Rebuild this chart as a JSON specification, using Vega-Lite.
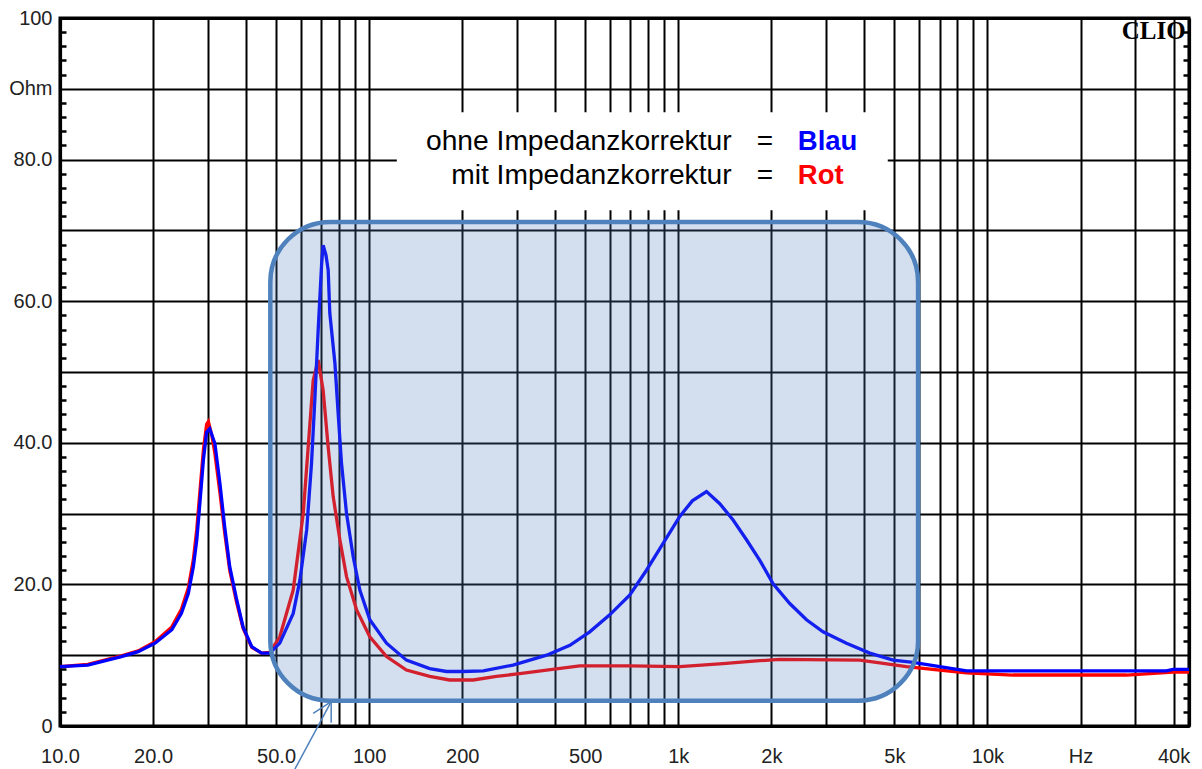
{
  "$schema": "https://vega.github.io/schema/vega-lite/v6.json",
  "width": 1129,
  "height": 708,
  "autosize": {"type": "none"},
  "padding": {"left": 60, "top": 18, "right": 13, "bottom": 43},
  "background": "white",
  "config": {
    "view": {"stroke": "#000000", "strokeWidth": 3},
    "axis": {
      "labelFont": "Liberation Sans",
      "labelFontSize": 20,
      "labelColor": "#222222",
      "gridColor": "#000000",
      "gridWidth": 2,
      "gridOpacity": 1,
      "domain": false,
      "domainColor": "#000000",
      "domainWidth": 3.2,
      "labelOverlap": false,
      "labelBound": false,
      "labelFlush": false,
      "title": null
    }
  },
  "datasets": {
    "imp": [
      {"series": "ohne", "freq": 10, "ohm": 8.4},
      {"series": "ohne", "freq": 12.3, "ohm": 8.6},
      {"series": "ohne", "freq": 15.8, "ohm": 9.8},
      {"series": "ohne", "freq": 17.9, "ohm": 10.5},
      {"series": "ohne", "freq": 20.3, "ohm": 11.7},
      {"series": "ohne", "freq": 23, "ohm": 13.6},
      {"series": "ohne", "freq": 24.7, "ohm": 15.9},
      {"series": "ohne", "freq": 26, "ohm": 18.7},
      {"series": "ohne", "freq": 27, "ohm": 22.5},
      {"series": "ohne", "freq": 27.7, "ohm": 26.3},
      {"series": "ohne", "freq": 28.4, "ohm": 31.9},
      {"series": "ohne", "freq": 29.1, "ohm": 37.6},
      {"series": "ohne", "freq": 29.8, "ohm": 41.5},
      {"series": "ohne", "freq": 30.5, "ohm": 42.0},
      {"series": "ohne", "freq": 31.7, "ohm": 39.9},
      {"series": "ohne", "freq": 32.9, "ohm": 34.3},
      {"series": "ohne", "freq": 34.1, "ohm": 28.1},
      {"series": "ohne", "freq": 35.4, "ohm": 22.5},
      {"series": "ohne", "freq": 37.3, "ohm": 17.8},
      {"series": "ohne", "freq": 39.1, "ohm": 14.0},
      {"series": "ohne", "freq": 41.7, "ohm": 11.2},
      {"series": "ohne", "freq": 44.9, "ohm": 10.3},
      {"series": "ohne", "freq": 47.7, "ohm": 10.3},
      {"series": "ohne", "freq": 51.4, "ohm": 11.7},
      {"series": "ohne", "freq": 56.8, "ohm": 15.9},
      {"series": "ohne", "freq": 59.7, "ohm": 20.6},
      {"series": "ohne", "freq": 62.8, "ohm": 27.7},
      {"series": "ohne", "freq": 65.1, "ohm": 37.1},
      {"series": "ohne", "freq": 66.8, "ohm": 46.5},
      {"series": "ohne", "freq": 68.4, "ohm": 55.9},
      {"series": "ohne", "freq": 70.2, "ohm": 65.3},
      {"series": "ohne", "freq": 71.0, "ohm": 67.9},
      {"series": "ohne", "freq": 72.5, "ohm": 66.5},
      {"series": "ohne", "freq": 73.7, "ohm": 64.4},
      {"series": "ohne", "freq": 74.6, "ohm": 58.3},
      {"series": "ohne", "freq": 77.5, "ohm": 51.2},
      {"series": "ohne", "freq": 79.4, "ohm": 44.1},
      {"series": "ohne", "freq": 81.4, "ohm": 37.1},
      {"series": "ohne", "freq": 84.5, "ohm": 30.0},
      {"series": "ohne", "freq": 88.8, "ohm": 23.9},
      {"series": "ohne", "freq": 93.3, "ohm": 19.2},
      {"series": "ohne", "freq": 100.5, "ohm": 15.0},
      {"series": "ohne", "freq": 113.8, "ohm": 11.7},
      {"series": "ohne", "freq": 132, "ohm": 9.3},
      {"series": "ohne", "freq": 157, "ohm": 8.1},
      {"series": "ohne", "freq": 178, "ohm": 7.7},
      {"series": "ohne", "freq": 201, "ohm": 7.7},
      {"series": "ohne", "freq": 234, "ohm": 7.8},
      {"series": "ohne", "freq": 292, "ohm": 8.6},
      {"series": "ohne", "freq": 375, "ohm": 10.0},
      {"series": "ohne", "freq": 446, "ohm": 11.4},
      {"series": "ohne", "freq": 517, "ohm": 13.3},
      {"series": "ohne", "freq": 600, "ohm": 15.7},
      {"series": "ohne", "freq": 697, "ohm": 18.5},
      {"series": "ohne", "freq": 789, "ohm": 22.0},
      {"series": "ohne", "freq": 893, "ohm": 25.8},
      {"series": "ohne", "freq": 1011, "ohm": 29.6},
      {"series": "ohne", "freq": 1110, "ohm": 31.8},
      {"series": "ohne", "freq": 1234, "ohm": 33.1},
      {"series": "ohne", "freq": 1362, "ohm": 31.4},
      {"series": "ohne", "freq": 1504, "ohm": 29.1},
      {"series": "ohne", "freq": 1662, "ohm": 26.3},
      {"series": "ohne", "freq": 1835, "ohm": 23.4},
      {"series": "ohne", "freq": 2026, "ohm": 20.1},
      {"series": "ohne", "freq": 2294, "ohm": 17.3},
      {"series": "ohne", "freq": 2598, "ohm": 15.0},
      {"series": "ohne", "freq": 2939, "ohm": 13.3},
      {"series": "ohne", "freq": 3499, "ohm": 11.7},
      {"series": "ohne", "freq": 4163, "ohm": 10.3},
      {"series": "ohne", "freq": 4952, "ohm": 9.3},
      {"series": "ohne", "freq": 5746, "ohm": 9.0},
      {"series": "ohne", "freq": 7012, "ohm": 8.4},
      {"series": "ohne", "freq": 8553, "ohm": 7.8},
      {"series": "ohne", "freq": 10170, "ohm": 7.8},
      {"series": "ohne", "freq": 37900, "ohm": 7.8},
      {"series": "ohne", "freq": 39850, "ohm": 8.0},
      {"series": "ohne", "freq": 44870, "ohm": 8.0},
      {"series": "mit", "freq": 10, "ohm": 8.4},
      {"series": "mit", "freq": 12.3, "ohm": 8.7},
      {"series": "mit", "freq": 15.8, "ohm": 9.9},
      {"series": "mit", "freq": 17.9, "ohm": 10.6},
      {"series": "mit", "freq": 20.3, "ohm": 11.9},
      {"series": "mit", "freq": 23, "ohm": 14.0},
      {"series": "mit", "freq": 24.7, "ohm": 16.5},
      {"series": "mit", "freq": 26, "ohm": 19.5},
      {"series": "mit", "freq": 27, "ohm": 23.5},
      {"series": "mit", "freq": 27.7, "ohm": 27.8},
      {"series": "mit", "freq": 28.4, "ohm": 33.5},
      {"series": "mit", "freq": 29.1, "ohm": 39.0},
      {"series": "mit", "freq": 29.8, "ohm": 42.6},
      {"series": "mit", "freq": 30.2, "ohm": 43.0},
      {"series": "mit", "freq": 31.0, "ohm": 41.0},
      {"series": "mit", "freq": 31.7, "ohm": 38.5},
      {"series": "mit", "freq": 32.9, "ohm": 33.0},
      {"series": "mit", "freq": 34.1, "ohm": 27.3},
      {"series": "mit", "freq": 35.4, "ohm": 22.0},
      {"series": "mit", "freq": 37.3, "ohm": 17.4},
      {"series": "mit", "freq": 39.1, "ohm": 13.8},
      {"series": "mit", "freq": 41.7, "ohm": 11.1},
      {"series": "mit", "freq": 44.9, "ohm": 10.3},
      {"series": "mit", "freq": 47.7, "ohm": 10.4},
      {"series": "mit", "freq": 51.4, "ohm": 12.6},
      {"series": "mit", "freq": 56.8, "ohm": 19.2},
      {"series": "mit", "freq": 61.2, "ohm": 30.0},
      {"series": "mit", "freq": 63.5, "ohm": 39.4},
      {"series": "mit", "freq": 65.9, "ohm": 48.8},
      {"series": "mit", "freq": 68.4, "ohm": 51.7},
      {"series": "mit", "freq": 71.0, "ohm": 47.4},
      {"series": "mit", "freq": 73.7, "ohm": 39.4},
      {"series": "mit", "freq": 76.5, "ohm": 32.4},
      {"series": "mit", "freq": 80.4, "ohm": 26.3},
      {"series": "mit", "freq": 84.5, "ohm": 21.1},
      {"series": "mit", "freq": 91.1, "ohm": 16.4},
      {"series": "mit", "freq": 100.5, "ohm": 12.6},
      {"series": "mit", "freq": 113.8, "ohm": 9.8},
      {"series": "mit", "freq": 132, "ohm": 7.9},
      {"series": "mit", "freq": 157, "ohm": 7.0},
      {"series": "mit", "freq": 182, "ohm": 6.5},
      {"series": "mit", "freq": 217, "ohm": 6.5},
      {"series": "mit", "freq": 258, "ohm": 7.0},
      {"series": "mit", "freq": 307, "ohm": 7.4},
      {"series": "mit", "freq": 375, "ohm": 7.9},
      {"series": "mit", "freq": 480, "ohm": 8.5},
      {"series": "mit", "freq": 697, "ohm": 8.5},
      {"series": "mit", "freq": 1011, "ohm": 8.4},
      {"series": "mit", "freq": 1396, "ohm": 8.8},
      {"series": "mit", "freq": 1790, "ohm": 9.2},
      {"series": "mit", "freq": 2130, "ohm": 9.4},
      {"series": "mit", "freq": 3864, "ohm": 9.3},
      {"series": "mit", "freq": 4484, "ohm": 8.9},
      {"series": "mit", "freq": 5470, "ohm": 8.4},
      {"series": "mit", "freq": 7012, "ohm": 7.9},
      {"series": "mit", "freq": 8553, "ohm": 7.5},
      {"series": "mit", "freq": 12100, "ohm": 7.2},
      {"series": "mit", "freq": 28160, "ohm": 7.2},
      {"series": "mit", "freq": 39850, "ohm": 7.6},
      {"series": "mit", "freq": 44870, "ohm": 7.6}
    ]
  },
  "resolve": {"axis": {"x": "independent", "y": "independent"}},
  "layer": [
    {
      "data": {"values": [{}]},
      "mark": {"type": "rect", "fill": "#ffffff"},
      "encoding": {
        "x": {
          "datum": 122.9, "type": "quantitative",
          "scale": {"type": "log", "domain": [10, 44870], "nice": false},
          "axis": {"orient": "top", "domain": true, "labels": false, "ticks": false, "grid": false}
        },
        "x2": {"datum": 4760},
        "y": {
          "datum": 86.7, "type": "quantitative",
          "scale": {"domain": [0, 100], "nice": false, "zero": false},
          "axis": {"orient": "right", "domain": true, "labels": false, "ticks": false, "grid": false}
        },
        "y2": {"datum": 72.85}
      }
    },
    {
      "data": {"name": "imp"},
      "transform": [{"filter": "datum.series == 'mit'"}],
      "mark": {"type": "line", "color": "#ff0000", "strokeWidth": 3.3},
      "encoding": {
        "x": {
          "field": "freq", "type": "quantitative",
          "scale": {"type": "log", "domain": [10, 44870], "nice": false},
          "axis": {
            "orient": "bottom",
            "values": [10, 20, 30, 40, 50, 60, 70, 80, 90, 100, 200, 300, 400, 500, 600, 700, 800, 900, 1000, 2000, 3000, 4000, 5000, 6000, 7000, 8000, 9000, 10000, 20000, 30000, 40000],
            "labelExpr": "datum.value==10?'10.0':datum.value==20?'20.0':datum.value==50?'50.0':datum.value==100?'100':datum.value==200?'200':datum.value==500?'500':datum.value==1000?'1k':datum.value==2000?'2k':datum.value==5000?'5k':datum.value==10000?'10k':datum.value==20000?'Hz':datum.value==40000?'40k':''",
            "ticks": false,
            "tickSize": 0,
            "labelPadding": 20,
            "domain": true,
            "grid": true
          }
        },
        "y": {
          "field": "ohm", "type": "quantitative",
          "scale": {"domain": [0, 100], "nice": false, "zero": false},
          "axis": {
            "orient": "left",
            "values": [0, 10, 20, 30, 40, 50, 60, 70, 80, 90, 100],
            "labelExpr": "datum.value==0?'0':datum.value==20?'20.0':datum.value==40?'40.0':datum.value==60?'60.0':datum.value==80?'80.0':datum.value==90?'Ohm':datum.value==100?'100':''",
            "ticks": false,
            "tickSize": 0,
            "labelPadding": 8,
            "labelBaseline": "middle",
            "domain": true,
            "grid": true
          }
        }
      }
    },
    {
      "data": {"name": "imp"},
      "transform": [{"filter": "datum.series == 'ohne'"}],
      "mark": {"type": "line", "color": "#0000ff", "strokeWidth": 3.3},
      "encoding": {
        "x": {"field": "freq", "type": "quantitative", "scale": {"type": "log", "domain": [10, 44870], "nice": false}, "axis": null},
        "y": {
          "field": "ohm", "type": "quantitative",
          "scale": {"domain": [0, 100], "nice": false, "zero": false},
          "axis": {
            "orient": "left",
            "offset": -6,
            "values": [2, 4, 6, 8, 12, 14, 16, 18, 22, 24, 26, 28, 32, 34, 36, 38, 42, 44, 46, 48, 52, 54, 56, 58, 62, 64, 66, 68, 72, 74, 76, 78, 82, 84, 86, 88, 92, 94, 96, 98],
            "labels": false,
            "grid": false,
            "domain": false,
            "ticks": true,
            "tickSize": 6,
            "tickWidth": 2.5,
            "tickColor": "#000000"
          }
        }
      }
    },
    {
      "data": {"values": [{}]},
      "mark": {"type": "rect", "cornerRadius": 60, "fill": "#4F81BD", "fillOpacity": 0.25, "stroke": "#4F81BD", "strokeWidth": 4.5},
      "encoding": {
        "x": {"datum": 47.9, "type": "quantitative", "scale": {"type": "log", "domain": [10, 44870], "nice": false}, "axis": null},
        "x2": {"datum": 5965},
        "y": {
          "datum": 71.2, "type": "quantitative",
          "scale": {"domain": [0, 100], "nice": false, "zero": false},
          "axis": {
            "orient": "right",
            "offset": -6,
            "values": [2, 4, 6, 8, 12, 14, 16, 18, 22, 24, 26, 28, 32, 34, 36, 38, 42, 44, 46, 48, 52, 54, 56, 58, 62, 64, 66, 68, 72, 74, 76, 78, 82, 84, 86, 88, 92, 94, 96, 98],
            "labels": false,
            "grid": false,
            "domain": false,
            "ticks": true,
            "tickSize": 6,
            "tickWidth": 2.5,
            "tickColor": "#000000"
          }
        },
        "y2": {"datum": 3.57}
      }
    },
    {
      "data": {"values": [{}]},
      "mark": {"type": "rule", "color": "#4F81BD", "strokeWidth": 1.5},
      "encoding": {
        "x": {"datum": 56.2, "type": "quantitative", "scale": {"type": "log", "domain": [10, 44870], "nice": false}, "axis": null},
        "x2": {"datum": 75.37},
        "y": {"datum": -6.9, "type": "quantitative", "scale": {"domain": [0, 100], "nice": false, "zero": false}, "axis": null},
        "y2": {"datum": 3.43}
      }
    },
    {
      "data": {"values": [{}]},
      "mark": {"type": "rule", "color": "#4F81BD", "strokeWidth": 1.5},
      "encoding": {
        "x": {"datum": 65.92, "type": "quantitative", "scale": {"type": "log", "domain": [10, 44870], "nice": false}, "axis": null},
        "x2": {"datum": 75.37},
        "y": {"datum": 1.79, "type": "quantitative", "scale": {"domain": [0, 100], "nice": false, "zero": false}, "axis": null},
        "y2": {"datum": 3.43}
      }
    },
    {
      "data": {"values": [{}]},
      "mark": {"type": "rule", "color": "#4F81BD", "strokeWidth": 1.5},
      "encoding": {
        "x": {"datum": 75.37, "type": "quantitative", "scale": {"type": "log", "domain": [10, 44870], "nice": false}, "axis": null},
        "x2": {"datum": 75.37},
        "y": {"datum": 0.47, "type": "quantitative", "scale": {"domain": [0, 100], "nice": false, "zero": false}, "axis": null},
        "y2": {"datum": 3.43}
      }
    },
    {
      "data": {"values": [{}]},
      "mark": {"type": "text", "text": ["ohne Impedanzkorrektur", "mit Impedanzkorrektur"], "align": "right", "baseline": "alphabetic", "lineHeight": 33.3, "font": "Liberation Sans", "fontSize": 28.2, "color": "#000000"},
      "encoding": {
        "x": {"datum": 1487, "type": "quantitative", "scale": {"type": "log", "domain": [10, 44870], "nice": false}, "axis": null},
        "y": {"datum": 81.3, "type": "quantitative", "scale": {"domain": [0, 100], "nice": false, "zero": false}, "axis": null}
      }
    },
    {
      "data": {"values": [{}]},
      "mark": {"type": "text", "text": ["=", "="], "align": "center", "baseline": "alphabetic", "lineHeight": 33.3, "font": "Liberation Sans", "fontSize": 28, "color": "#000000"},
      "encoding": {
        "x": {"datum": 1905, "type": "quantitative", "scale": {"type": "log", "domain": [10, 44870], "nice": false}, "axis": null},
        "y": {"datum": 81.3, "type": "quantitative", "scale": {"domain": [0, 100], "nice": false, "zero": false}, "axis": null}
      }
    },
    {
      "data": {"values": [{}]},
      "mark": {"type": "text", "text": "Blau", "align": "left", "baseline": "alphabetic", "font": "Liberation Sans", "fontWeight": "bold", "fontSize": 27.5, "color": "#0000ff"},
      "encoding": {
        "x": {"datum": 2435, "type": "quantitative", "scale": {"type": "log", "domain": [10, 44870], "nice": false}, "axis": null},
        "y": {"datum": 81.3, "type": "quantitative", "scale": {"domain": [0, 100], "nice": false, "zero": false}, "axis": null}
      }
    },
    {
      "data": {"values": [{}]},
      "mark": {"type": "text", "text": "Rot", "align": "left", "baseline": "alphabetic", "font": "Liberation Sans", "fontWeight": "bold", "fontSize": 27.5, "color": "#ff0000"},
      "encoding": {
        "x": {"datum": 2435, "type": "quantitative", "scale": {"type": "log", "domain": [10, 44870], "nice": false}, "axis": null},
        "y": {"datum": 76.6, "type": "quantitative", "scale": {"domain": [0, 100], "nice": false, "zero": false}, "axis": null}
      }
    },
    {
      "data": {"values": [{}]},
      "mark": {"type": "text", "text": "CLIO", "align": "right", "baseline": "alphabetic", "font": "Liberation Serif", "fontWeight": "bold", "fontSize": 25, "color": "#000000"},
      "encoding": {
        "x": {"datum": 43780, "type": "quantitative", "scale": {"type": "log", "domain": [10, 44870], "nice": false}, "axis": null},
        "y": {"datum": 97, "type": "quantitative", "scale": {"domain": [0, 100], "nice": false, "zero": false}, "axis": null}
      }
    }
  ]
}
